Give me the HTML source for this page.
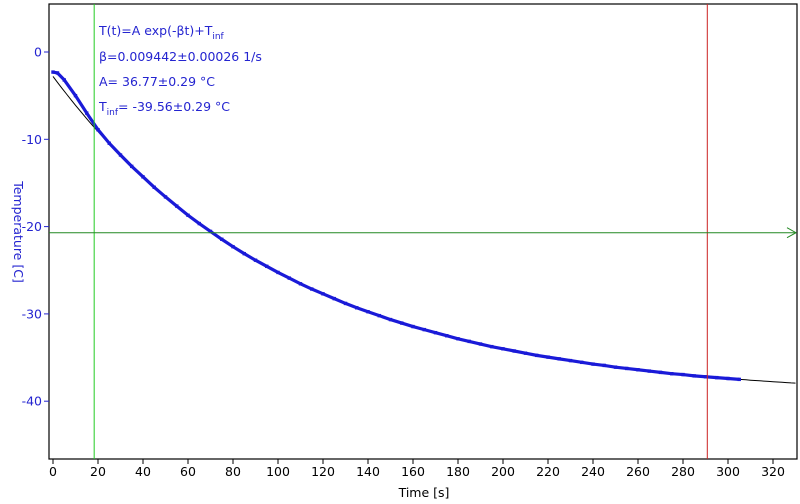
<!DOCTYPE html>
<html><head><meta charset="utf-8"><style>
body{margin:0;background:#fff}
svg{display:block;font-family:"DejaVu Sans","Liberation Sans",sans-serif}
</style></head><body>
<svg id="chart" width="800" height="504">
<rect x="49" y="4" width="748" height="455" fill="none" stroke="#000" stroke-width="1.2"/>
<g id="axes"></g>
<g id="marks"></g>
<text x="99" y="35" font-size="12.5" fill="#2424d0">T(t)=A exp(-βt)+T<tspan font-size="9" dy="4">inf</tspan></text>
<text x="99" y="61" font-size="12.5" fill="#2424d0">β=0.009442±0.00026 1/s</text>
<text x="99" y="86" font-size="12.5" fill="#2424d0">A= 36.77±0.29 °C</text>
<text x="99" y="111" font-size="12.5" fill="#2424d0">T<tspan font-size="9" dy="4">inf</tspan><tspan dy="-4">= -39.56±0.29 °C</tspan></text>
<text x="424" y="497" font-size="12.5" text-anchor="middle" fill="#000">Time [s]</text>
<text transform="translate(14,232) rotate(90)" font-size="12.5" text-anchor="middle" fill="#2424d0">Temperature [C]</text>
</svg>
<script>
const xTicks=[0,20,40,60,80,100,120,140,160,180,200,220,240,260,280,300,320];
const yTicks=[0,-10,-20,-30,-40];
const times=[0,2,5,10,15,20,25,30,35,40,45,50,55,60,65,70,75,80,85,90,95,100,105,110,115,120,125,130,135,140,145,150,155,160,165,170,175,180,185,190,195,200,205,210,215,220,225,230,235,240,245,250,255,260,265,270,275,280,285,290,295,300,305];
const temps=[-2.3,-2.4,-3.2,-5.0,-7.0,-8.9,-10.45,-11.8,-13.1,-14.3,-15.5,-16.6,-17.65,-18.7,-19.65,-20.55,-21.45,-22.3,-23.1,-23.85,-24.55,-25.25,-25.9,-26.55,-27.15,-27.7,-28.25,-28.8,-29.3,-29.75,-30.2,-30.65,-31.05,-31.45,-31.8,-32.15,-32.5,-32.85,-33.15,-33.45,-33.75,-34.0,-34.25,-34.5,-34.75,-34.95,-35.15,-35.35,-35.55,-35.75,-35.9,-36.1,-36.25,-36.4,-36.55,-36.7,-36.85,-36.95,-37.1,-37.2,-37.3,-37.4,-37.5];
const fitA=36.77, fitBeta=0.009442, fitTinf=-39.56;
const cursorT1=18.3, cursorT2=290.8, cursorLevel=-20.7;
const X=t=>53+t*2.25, Y=v=>52-v*8.73;
const NS="http://www.w3.org/2000/svg";
const axes=document.getElementById('axes'), marks=document.getElementById('marks');
function mk(p,tag,a){const e=document.createElementNS(NS,tag);for(const k in a)e.setAttribute(k,a[k]);p.appendChild(e);return e;}
xTicks.forEach(t=>{
 const l=mk(axes,'line',{x1:X(t),x2:X(t),y1:459,y2:464,stroke:'#000'});
 
 
 const tx=mk(axes,'text',{x:X(t),y:476,'font-size':12.5,'text-anchor':'middle'});tx.textContent=t;
 
 
});
yTicks.forEach(v=>{
 const l=mk(axes,'line',{x1:44,x2:49,y1:Y(v),y2:Y(v),stroke:'#2424d0'});
 
 
 const tx=mk(axes,'text',{x:42,y:Y(v)+4.5,'font-size':12.5,'text-anchor':'end',fill:'#2424d0'});tx.textContent=v;
 
 
});
let fp=[];for(let t=0;t<=330;t+=2)fp.push(X(t).toFixed(1)+','+Y(fitA*Math.exp(-fitBeta*t)+fitTinf).toFixed(1));
const fit=mk(marks,'polyline',{points:fp.join(' '),fill:'none',stroke:'#000','stroke-width':1});


const dl=mk(marks,'polyline',{points:times.map((t,i)=>X(t)+','+Y(temps[i])).join(' '),fill:'none',stroke:'#1a1ad8','stroke-width':3.2});


times.forEach((t,i)=>{
 const r=mk(marks,'rect',{x:X(t)-1.7,y:Y(temps[i])-1.7,width:3.4,height:3.4,fill:'#1a1ad8'});
 
 
});
const g1=mk(marks,'line',{x1:X(cursorT1),x2:X(cursorT1),y1:4,y2:459,stroke:'#22cc22'});


const r1=mk(marks,'line',{x1:X(cursorT2),x2:X(cursorT2),y1:4,y2:459,stroke:'#cc2222'});


const h=mk(marks,'line',{x1:49,x2:796,y1:Y(cursorLevel),y2:Y(cursorLevel),stroke:'#228822'});


const ar=mk(marks,'polyline',{points:`787,${Y(cursorLevel)-5} 796,${Y(cursorLevel)} 787,${Y(cursorLevel)+5}`,fill:'none',stroke:'#228822'});


</script>
</body></html>
